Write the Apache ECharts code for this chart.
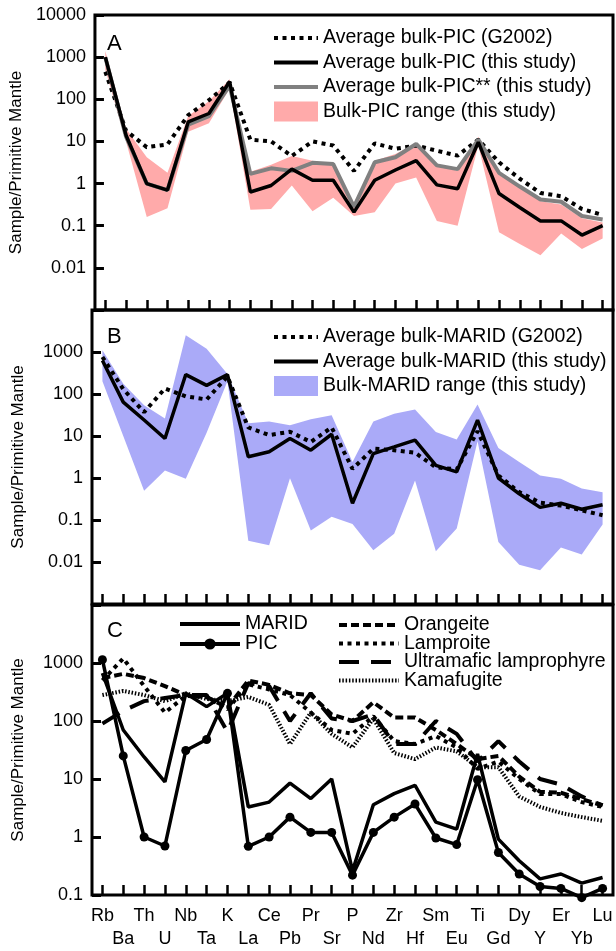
<!DOCTYPE html>
<html>
<head>
<meta charset="utf-8">
<script src="https://cdn.jsdelivr.net/npm/echarts@6/dist/echarts.min.js"></script>
<style>
  html, body { margin: 0; padding: 0; background: #fff; }
  #main { width: 616px; height: 951px; }
</style>
</head>
<body>
<div id="main"></div>
<script>
// elements, primitive-mantle normalised
var elements = ['Rb','Ba','Th','U','Nb','Ta','K','La','Ce','Pb','Pr','Sr','P','Nd','Zr','Hf','Sm','Eu','Ti','Gd','Dy','Y','Er','Yb','Lu'];

// y tick labels (one per decade)
var decadesAB = [0.001, 0.01, 0.1, 1, 10, 100, 1000, 10000];
var tickLabelsA = ['', '0.01', '0.1', '1', '10', '100', '1000', '10000'];
var tickLabelsB = ['', '0.01', '0.1', '1', '10', '100', '1000', ''];
var decadesC = [0.1, 1, 10, 100, 1000, 10000];
var tickLabelsC = ['0.1', '1', '10', '100', '1000', ''];

// panel A - PIC
var picG2002 = [450, 18, 7.3, 8.5, 42, 95, 250, 11, 10, 4.5, 10, 8, 2.0, 9, 6.7, 8, 6, 4.6, 11, 3.2, 1.3, 0.6, 0.5, 0.25, 0.18];
var picAvg   = [1000, 14, 1.0, 0.7, 29, 46, 265, 0.63, 0.9, 2.2, 1.2, 1.2, 0.21, 1.2, 2.1, 3.5, 0.93, 0.75, 9.6, 0.58, 0.27, 0.13, 0.13, 0.06, 0.1];
var picAvg2  = [1000, 13, 1.0, 0.7, 25, 40, 210, 1.7, 2.3, 2.0, 3.1, 2.9, 0.28, 3.2, 4.2, 8.7, 2.7, 2.2, 11, 1.8, 0.85, 0.42, 0.37, 0.17, 0.14];
var picMin   = [500, 10, 0.16, 0.26, 17, 27, 180, 0.24, 0.25, 0.9, 0.22, 0.46, 0.17, 0.21, 1.0, 1.4, 0.13, 0.1, 8, 0.07, 0.037, 0.02, 0.065, 0.028, 0.05];
var picMax   = [1400, 20, 4.2, 1.8, 40, 90, 300, 1.9, 2.8, 4.5, 3.5, 2.8, 0.35, 3.5, 5, 9, 2.8, 2.0, 13, 1.6, 0.85, 0.38, 0.32, 0.15, 0.12];

// panel B - MARID
var maridG2002 = [760, 130, 37, 135, 88, 74, 260, 16, 10.5, 12.6, 7.2, 16, 1.65, 5.0, 4.6, 4.0, 1.8, 1.6, 13, 1.15, 0.46, 0.26, 0.22, 0.17, 0.13];
var maridAvg   = [630, 64, 24, 8.7, 290, 160, 290, 3.2, 4.2, 8.7, 4.6, 11, 0.25, 3.8, 5.5, 8, 2.0, 1.4, 24, 1.0, 0.42, 0.2, 0.25, 0.18, 0.23];
var maridMin   = [200, 10, 0.5, 1.5, 0.96, 12, 200, 0.032, 0.025, 0.98, 0.056, 0.12, 0.08, 0.019, 0.047, 0.87, 0.018, 0.063, 7.5, 0.03, 0.0086, 0.0064, 0.022, 0.015, 0.078];
var maridMax   = [1100, 175, 54, 26, 2500, 1200, 300, 20, 22, 18, 25, 31, 2.4, 22, 34, 43, 12.5, 8.3, 56, 5.2, 2.4, 1.15, 0.96, 0.56, 0.46];

// panel C - comparison
var cMarid      = [670, 70, 24, 8.9, 300, 177, 300, 3.3, 4.0, 8.5, 4.6, 10, 0.26, 3.6, 5.6, 7.8, 1.8, 1.37, 27, 0.92, 0.39, 0.19, 0.23, 0.16, 0.2];
var cPic        = [1140, 25, 1.0, 0.7, 31, 48, 300, 0.69, 1.0, 2.2, 1.2, 1.2, 0.22, 1.2, 2.2, 3.7, 0.96, 0.74, 9.7, 0.54, 0.23, 0.14, 0.13, 0.09, 0.13];
var orangeite   = [550, 650, 550, 400, 280, 260, 170, 500, 420, 300, 280, 130, 100, 210, 115, 115, 70, 40, 22, 25, 11, 6, 5.8, 4.5, 3.5];
var lamproite   = [500, 1200, 400, 140, 270, 260, 160, 430, 350, 280, 140, 70, 60, 120, 45, 40, 55, 35, 15, 20, 10, 5.5, 5.5, 4, 3.3];
var uml         = [90, 150, 220, 250, 280, 280, 65, 450, 400, 100, 300, 110, 100, 130, 40, 40, 100, 60, 20, 45, 20, 10, 8, 5, 3.5];
var kamafugite  = [280, 330, 280, 220, 300, 240, 220, 260, 190, 40, 140, 60, 35, 110, 28, 22, 35, 30, 16, 16, 5, 3.3, 2.6, 2.2, 1.9];

var FONT = 'Liberation Sans, Arial, sans-serif';
var PINK = '#ffaaaa';
var BLUE = '#aaaaf8';
var GRAY = '#808080';

function diff(a, b) {
  return a.map(function (v, i) { return v - b[i]; });
}

function tickFormatter(values, labels) {
  return function (v) {
    var e = Math.log10(v);
    for (var i = 0; i < values.length; i++) {
      if (Math.abs(Math.log10(values[i]) - e) < 0.01) return labels[i];
    }
    return '';
  };
}

// legend entry drawn as a plain line sample (no symbol)
function lineItem(name) {
  return { name: name, itemStyle: { opacity: 0 }, lineStyle: { width: 4 } };
}

function makeX(idx, showLabels) {
  return {
    type: 'category',
    gridIndex: idx,
    data: elements,
    boundaryGap: true,
    axisLine: { show: false },
    axisTick: { show: true, inside: true, length: 10, alignWithLabel: true, interval: 0,
                lineStyle: { color: '#000', width: 2.5 } },
    axisLabel: {
      show: showLabels,
      interval: 0,
      margin: 10,
      color: '#000',
      fontFamily: FONT,
      fontSize: 18,
      lineHeight: 23,
      formatter: function (v, i) { return i % 2 ? '\n' + v : v; }
    },
    splitLine: { show: false }
  };
}

function makeY(idx, min, max, values, labels) {
  return {
    type: 'log',
    logBase: 10,
    gridIndex: idx,
    min: min,
    max: max,
    name: 'Sample/Primitive Mantle',
    nameLocation: 'middle',
    nameGap: 65,
    nameTextStyle: { color: '#000', fontFamily: FONT, fontSize: 17 },
    axisLine: { show: false },
    axisTick: { show: true, inside: true, length: 9, lineStyle: { color: '#000', width: 3 } },
    axisLabel: { color: '#000', fontFamily: FONT, fontSize: 18, margin: 9,
                 formatter: tickFormatter(values, labels) },
    splitLine: { show: false },
    minorTick: { show: false }
  };
}

function line(name, x, data, color, width, type, extra) {
  var s = {
    name: name,
    type: 'line',
    xAxisIndex: x,
    yAxisIndex: x,
    data: data,
    symbol: 'none',
    color: color,
    lineStyle: { color: color, width: width, type: type },
    z: 3
  };
  for (var k in extra) s[k] = extra[k];
  return s;
}

var gridBox = { show: true, borderColor: '#000', borderWidth: 3, backgroundColor: 'transparent' };
var titleStyle = { fontSize: 22, fontWeight: 'normal', color: '#000', fontFamily: FONT };

var option = {
  animation: false,
  backgroundColor: '#fff',
  textStyle: { fontFamily: FONT },
  grid: [
    Object.assign({ left: 92, top: 15, width: 521, height: 295 }, gridBox),
    Object.assign({ left: 92, top: 310, width: 521, height: 294 }, gridBox),
    Object.assign({ left: 92, top: 605, width: 521, height: 293 }, gridBox)
  ],
  title: [
    { text: 'A', left: 107, top: 33, padding: 0, textStyle: titleStyle },
    { text: 'B', left: 107, top: 326, padding: 0, textStyle: titleStyle },
    { text: 'C', left: 107, top: 620, padding: 0, textStyle: titleStyle }
  ],
  legend: [
    {
      orient: 'vertical', left: 272, top: 28, itemWidth: 44, itemHeight: 20, itemGap: 4.5, padding: 0,
      textStyle: { fontSize: 19.5, color: '#000', fontFamily: FONT },
      data: [
        lineItem('Average bulk-PIC (G2002)'),
        lineItem('Average bulk-PIC (this study)'),
        lineItem('Average bulk-PIC** (this study)'),
        { name: 'Bulk-PIC range (this study)', icon: 'rect' }
      ]
    },
    {
      orient: 'vertical', left: 272, top: 327, itemWidth: 44, itemHeight: 20, itemGap: 4.5, padding: 0,
      textStyle: { fontSize: 19.5, color: '#000', fontFamily: FONT },
      data: [
        lineItem('Average bulk-MARID (G2002)'),
        lineItem('Average bulk-MARID (this study)'),
        { name: 'Bulk-MARID range (this study)', icon: 'rect' }
      ]
    },
    {
      orient: 'vertical', left: 178, top: 614, itemWidth: 60, itemHeight: 14, itemGap: 0, padding: 0,
      textStyle: { fontSize: 19.5, color: '#000', fontFamily: FONT },
      data: [lineItem('MARID'), { name: 'PIC', lineStyle: { width: 4 } }]
    },
    {
      orient: 'vertical', left: 337, top: 615, itemWidth: 60, itemHeight: 14, itemGap: -1.5, padding: 0,
      textStyle: { fontSize: 19.5, color: '#000', fontFamily: FONT },
      data: [lineItem('Orangeite'), lineItem('Lamproite'), lineItem('Ultramafic lamprophyre'), lineItem('Kamafugite')]
    }
  ],
  xAxis: [makeX(0, false), makeX(1, false), makeX(2, true)],
  yAxis: [
    makeY(0, 0.001, 10000, decadesAB, tickLabelsA),
    makeY(1, 0.001, 10000, decadesAB, tickLabelsB),
    makeY(2, 0.1, 10000, decadesC, tickLabelsC)
  ],
  series: [
    // A
    line('picMinBase', 0, picMin, PINK, 0, 'solid', { stack: 'pic', lineStyle: { width: 0, opacity: 0 }, z: 1, silent: true }),
    line('Bulk-PIC range (this study)', 0, diff(picMax, picMin), PINK, 0, 'solid',
         { stack: 'pic', lineStyle: { width: 0, opacity: 0 }, areaStyle: { color: PINK, opacity: 1 }, z: 1 }),
    line('Average bulk-PIC (G2002)', 0, picG2002, '#000', 4, [4, 4.5], { z: 3 }),
    line('Average bulk-PIC** (this study)', 0, picAvg2, GRAY, 4, 'solid', { z: 4 }),
    line('Average bulk-PIC (this study)', 0, picAvg, '#000', 3.5, 'solid', { z: 5 }),
    // B
    line('maridMinBase', 1, maridMin, BLUE, 0, 'solid', { stack: 'marid', lineStyle: { width: 0, opacity: 0 }, z: 1, silent: true }),
    line('Bulk-MARID range (this study)', 1, diff(maridMax, maridMin), BLUE, 0, 'solid',
         { stack: 'marid', lineStyle: { width: 0, opacity: 0 }, areaStyle: { color: BLUE, opacity: 1 }, z: 1 }),
    line('Average bulk-MARID (G2002)', 1, maridG2002, '#000', 4, [4, 4.5], { z: 3 }),
    line('Average bulk-MARID (this study)', 1, maridAvg, '#000', 3.5, 'solid', { z: 5 }),
    // C
    line('Kamafugite', 2, kamafugite, '#000', 4, [1.5, 1.8], { z: 3 }),
    line('Ultramafic lamprophyre', 2, uml, '#000', 4, [20, 12], { z: 3 }),
    line('Lamproite', 2, lamproite, '#000', 4, [4, 4.5], { z: 3 }),
    line('Orangeite', 2, orangeite, '#000', 4, [8, 4], { z: 3 }),
    line('MARID', 2, cMarid, '#000', 3.5, 'solid', { z: 4 }),
    line('PIC', 2, cPic, '#000', 3.5, 'solid',
         { z: 5, symbol: 'circle', symbolSize: 9, showSymbol: true, clip: false, itemStyle: { color: '#000' } })
  ]
};

var chart = echarts.init(document.getElementById('main'), null, { renderer: 'canvas' });
chart.setOption(option);
</script>
</body>
</html>
